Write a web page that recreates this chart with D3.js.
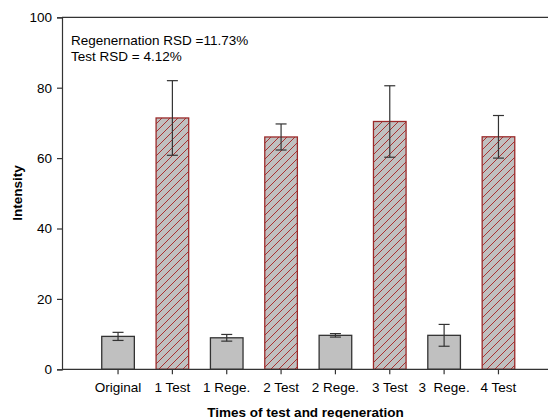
<!DOCTYPE html>
<html><head><meta charset="utf-8">
<script src="https://cdn.jsdelivr.net/npm/d3@7"></script>
<style>
body{margin:0;background:#fff;}
svg{font-family:"Liberation Sans",Arial,sans-serif;}
</style></head>
<body><svg id="c" width="548" height="418"></svg>
<script>
const categories = ["Original","1 Test","1 Rege.","2 Test","2 Rege.","3 Test","3  Rege.","4 Test"];
const kinds = ["rege","test","rege","test","rege","test","rege","test"];
const values = [9.35, 71.4, 8.95, 66.0, 9.65, 70.4, 9.65, 66.05];
const errors = [1.15, 10.6, 0.95, 3.7, 0.5, 10.15, 3.1, 6.05];
const yTicks = [0,20,40,60,80,100];
const notes = ["Regenernation RSD =11.73%","Test RSD = 4.12%"];

const svg = d3.select("#c");
const axisColor = "#333";
const fs = 13.5;
const x = d3.scaleBand().domain(categories).range([80, 536.5]).paddingInner(0.4).paddingOuter(0.4);
const y = d3.scaleLinear().domain([0,100]).range([369.3, 17.3]);

const defs = svg.append("defs");
const pat = defs.append("pattern").attr("id","hatch").attr("patternUnits","userSpaceOnUse")
  .attr("width",8).attr("height",8);
pat.append("rect").attr("width",8).attr("height",8).attr("fill","#c0c0c0");
pat.append("path").attr("d","M-2,2 L2,-2 M0,8 L8,0 M6,10 L10,6").attr("stroke","#a83232").attr("stroke-width",1);

// frame line at top
svg.append("line").attr("x1",62).attr("x2",548).attr("y1",y(100)).attr("y2",y(100)).attr("stroke",axisColor).attr("stroke-width",1.2);

// bars
svg.selectAll("rect.bar").data(categories).enter().append("rect")
  .attr("x", d=>x(d)).attr("width", x.bandwidth())
  .attr("y", (d,i)=>y(values[i])).attr("height",(d,i)=>y(0)-y(values[i]))
  .attr("fill",(d,i)=>kinds[i]==="test"?"url(#hatch)":"#c0c0c0")
  .attr("stroke",(d,i)=>kinds[i]==="test"?"#9b2a2a":"#333")
  .attr("stroke-width",1.3);

// error bars
const eb = svg.append("g").attr("stroke","#333").attr("stroke-width",1.2);
categories.forEach((c,i)=>{
  const cx = x(c)+x.bandwidth()/2;
  const hi = y(values[i]+errors[i]), lo = y(values[i]-errors[i]);
  eb.append("line").attr("x1",cx).attr("x2",cx).attr("y1",hi).attr("y2",lo);
  eb.append("line").attr("x1",cx-5.5).attr("x2",cx+5.5).attr("y1",hi).attr("y2",hi);
  eb.append("line").attr("x1",cx-5.5).attr("x2",cx+5.5).attr("y1",lo).attr("y2",lo);
});

// y axis
const ya = svg.append("g").attr("transform","translate(62,0)")
  .call(d3.axisLeft(y).tickValues(yTicks).tickSize(5).tickPadding(5));
ya.select(".domain").attr("stroke",axisColor).attr("stroke-width",1.2);
ya.selectAll(".tick line").attr("stroke",axisColor).attr("stroke-width",1.2);
ya.selectAll("text").attr("font-size",fs).attr("fill","#000").attr("font-family","Liberation Sans, Arial, sans-serif");

// x axis
const xa = svg.append("g").attr("transform",`translate(0,${y(0)})`)
  .call(d3.axisBottom(x).tickSize(5).tickPadding(8));
xa.select(".domain").remove();
xa.append("line").attr("x1",62).attr("x2",548).attr("y1",0).attr("y2",0).attr("stroke",axisColor).attr("stroke-width",1.2);
xa.selectAll(".tick line").attr("stroke",axisColor).attr("stroke-width",1.2);
xa.selectAll("text").attr("font-size",fs).attr("fill","#000").style("white-space","pre")
  .attr("font-family","Liberation Sans, Arial, sans-serif");

// axis titles
svg.append("text").attr("x",305.5).attr("y",416.5).attr("text-anchor","middle")
  .attr("font-size",fs).attr("font-weight","bold").text("Times of test and regeneration");
svg.append("text").attr("transform",`translate(22,${(17+369)/2}) rotate(-90)`).attr("text-anchor","middle")
  .attr("font-size",fs).attr("font-weight","bold").text("Intensity");

// notes
notes.forEach((t,i)=>{
  svg.append("text").attr("x",71).attr("y",45+i*16).attr("font-size",fs).text(t);
});
</script></body></html>
